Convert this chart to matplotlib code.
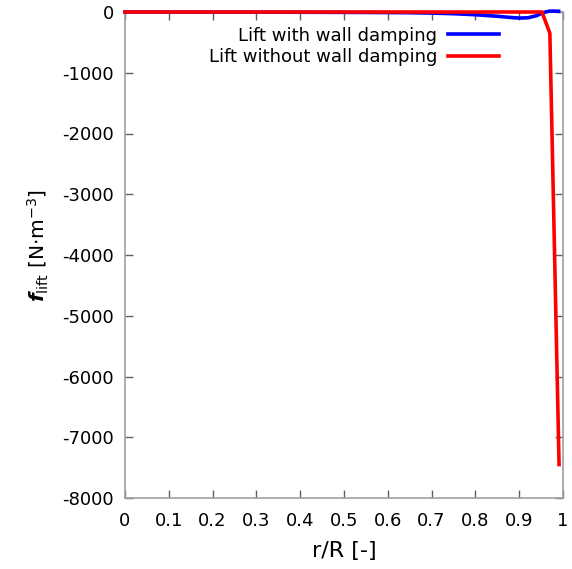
import numpy as np
import matplotlib.pyplot as plt

# radial position r/R and lift force density f_lift [N m^-3]
r_damped = [0.0, 0.1, 0.2, 0.3, 0.4, 0.5, 0.6, 0.65, 0.7, 0.75, 0.8, 0.85,
            0.88, 0.9, 0.92, 0.94, 0.95, 0.96, 0.97, 0.98, 0.99]
f_damped = [0, -1, -2, -3, -4, -6, -9, -12, -18, -28, -45, -70,
            -90, -100, -95, -60, -25, 0, 15, 15, 12]

r_undamped = [0.0, 0.2, 0.4, 0.6, 0.8, 0.9, 0.952, 0.970, 0.991]
f_undamped = [0, 0, 0, 0, 0, 0, 0, -350, -7450]

labels = ['Lift with wall damping', 'Lift without wall damping']

plt.rcParams['font.family'] = 'DejaVu Sans'
plt.rcParams['mathtext.fontset'] = 'dejavusans'
plt.rcParams['axes.unicode_minus'] = False

fig = plt.figure(figsize=(5.72, 5.69), dpi=100)
ax = fig.add_axes([125 / 572, 1 - 498 / 569, 438 / 572, 486 / 569])

ax.plot(r_damped, f_damped, color='#0000ff', lw=2.6, label=labels[0],
        clip_on=False, zorder=3)
ax.plot(r_undamped, f_undamped, color='#ff0000', lw=2.6, label=labels[1],
        clip_on=False, zorder=4)

ax.set_xlim(0, 1)
ax.set_ylim(-8000, 0)
ax.set_xticks(np.arange(0, 1.01, 0.1))
ax.set_xticklabels(['0', '0.1', '0.2', '0.3', '0.4', '0.5', '0.6', '0.7', '0.8', '0.9', '1'])
ax.set_yticks(np.arange(-8000, 1, 1000))

for s in ax.spines.values():
    s.set_color('#a0a0a0')
    s.set_linewidth(1.2)
ax.tick_params(direction='in', length=6, width=1, color='#606060',
               labelsize=13, labelcolor='#000000', top=True, right=True)
ax.tick_params(axis='x', pad=10)
ax.tick_params(axis='y', pad=8)

ax.set_xlabel('r/R [-]', fontsize=16, labelpad=8)
ax.set_ylabel(r'$\boldsymbol{f}_{\mathrm{lift}}$ [N$\cdot$m$^{-3}$]', fontsize=14.5, labelpad=12)
ax.yaxis.set_label_coords(-0.17, 0.52)

ax.legend(loc='upper right', bbox_to_anchor=(0.87, 0.985), frameon=False, markerfirst=False,
          fontsize=13, handlelength=2.8, labelspacing=0.2, handletextpad=0.6,
          borderaxespad=0)

fig.savefig('out.png', dpi=100)
